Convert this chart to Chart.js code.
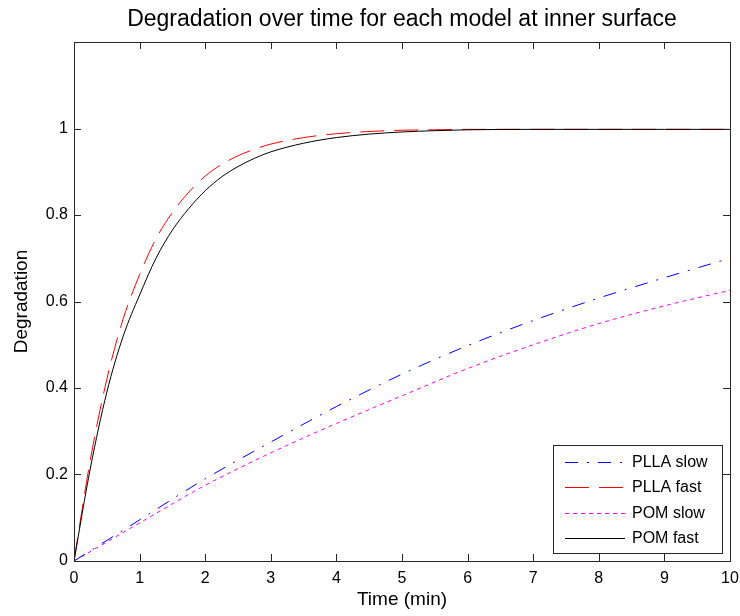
<!DOCTYPE html>
<html>
<head>
<meta charset="utf-8">
<script src="https://cdn.jsdelivr.net/npm/chart.js@4.4.1/dist/chart.umd.min.js"></script>
<style>
  html, body { margin: 0; padding: 0; background: #fff; }
  #wrap { width: 740px; height: 616px; }
</style>
</head>
<body>
<div id="wrap"><canvas id="degChart" width="740" height="616"></canvas></div>
<script>
// values
const timeFast = [0, 0.25, 0.5, 0.75, 1, 1.25, 1.5, 1.75, 2, 2.25, 2.5, 2.75, 3, 3.5, 4, 4.5, 5, 5.5, 6, 7, 8, 9, 10];
const pllaFast = [0, 0.235, 0.42, 0.56, 0.662, 0.745, 0.806, 0.853, 0.89, 0.917, 0.937, 0.952, 0.964, 0.979, 0.988, 0.993, 0.996, 0.997, 0.998, 0.998, 0.998, 0.998, 0.998];
const pomFast = [0, 0.215, 0.39, 0.52, 0.615, 0.70, 0.765, 0.815, 0.856, 0.888, 0.912, 0.931, 0.946, 0.966, 0.979, 0.987, 0.992, 0.995, 0.997, 0.998, 0.998, 0.998, 0.998];

const timeSlow = [0, 1, 2, 3, 4, 5, 6, 7, 8, 9, 10];
const pllaSlow = [0, 0.095, 0.19, 0.275, 0.357, 0.432, 0.498, 0.556, 0.608, 0.655, 0.70];
const pomSlow = [0, 0.088, 0.175, 0.25, 0.318, 0.382, 0.445, 0.50, 0.549, 0.59, 0.626];

const xTicks = [0, 1, 2, 3, 4, 5, 6, 7, 8, 9, 10];
const yTicks = [0, 0.2, 0.4, 0.6, 0.8, 1];

const FONT = '"Liberation Sans", Arial, Helvetica, sans-serif';

function pairs(xs, ys) {
    return xs.map((x, i) => ({ x: x, y: ys[i] }));
}

// MATLAB style box with inward ticks on all four sides
const axesBox = {
    id: 'axesBox',
    afterDatasetsDraw(chart) {
        const { ctx, chartArea: a, scales } = chart;
        const len = 7;
        ctx.save();
        ctx.strokeStyle = '#262626';
        ctx.lineWidth = 1;
        ctx.beginPath();
        xTicks.forEach(v => {
            const px = Math.round(scales.x.getPixelForValue(v)) + 0.5;
            ctx.moveTo(px, a.bottom); ctx.lineTo(px, a.bottom - len);
            ctx.moveTo(px, a.top); ctx.lineTo(px, a.top + len);
        });
        yTicks.forEach(v => {
            const py = Math.round(scales.y.getPixelForValue(v)) + 0.5;
            ctx.moveTo(a.left, py); ctx.lineTo(a.left + len, py);
            ctx.moveTo(a.right, py); ctx.lineTo(a.right - len, py);
        });
        ctx.stroke();
        ctx.strokeRect(Math.round(a.left) + 0.5, Math.round(a.top) + 0.5,
            Math.round(a.right - a.left), Math.round(a.bottom - a.top));
        ctx.restore();
    }
};

// legend box in the lower right corner, as in the original figure
const boxLegend = {
    id: 'boxLegend',
    afterDraw(chart) {
        const { ctx } = chart;
        const x0 = 553, y0 = 445, w = 169, h = 108;
        ctx.save();
        ctx.fillStyle = '#fff';
        ctx.fillRect(x0, y0, w, h);
        ctx.strokeStyle = '#262626';
        ctx.lineWidth = 1;
        ctx.strokeRect(x0 + 0.5, y0 + 0.5, w, h);
        ctx.font = '16px ' + FONT;
        ctx.textBaseline = 'middle';
        chart.data.datasets.forEach((ds, i) => {
            const y = Math.round(y0 + 17 + i * 25.3) + 0.5;
            ctx.strokeStyle = ds.borderColor;
            ctx.lineWidth = 1;
            ctx.setLineDash(ds.borderDash || []);
            ctx.beginPath();
            ctx.moveTo(565, y);
            ctx.lineTo(625, y);
            ctx.stroke();
            ctx.setLineDash([]);
            ctx.fillStyle = '#000';
            ctx.fillText(ds.label, 632, y);
        });
        ctx.restore();
    }
};

new Chart(document.getElementById('degChart'), {
    type: 'line',
    data: {
        datasets: [
            {
                label: 'PLLA slow',
                data: pairs(timeSlow, pllaSlow),
                borderColor: '#0000ff',
                borderDash: [13, 9, 2, 9],
                order: 1
            },
            {
                label: 'PLLA fast',
                data: pairs(timeFast, pllaFast),
                borderColor: '#ff0000',
                borderDash: [24, 10],
                order: 1
            },
            {
                label: 'POM slow',
                data: pairs(timeSlow, pomSlow),
                borderColor: '#ff00ff',
                borderDash: [4, 4],
                order: 1
            },
            {
                label: 'POM fast',
                data: pairs(timeFast, pomFast),
                borderColor: '#000000',
                order: 0
            }
        ]
    },
    options: {
        responsive: false,
        animation: false,
        devicePixelRatio: 1,
        layout: { padding: { top: 0, right: 10, left: 0, bottom: 0 } },
        elements: {
            point: { radius: 0 },
            line: { borderWidth: 1, fill: false, cubicInterpolationMode: 'monotone' }
        },
        plugins: {
            legend: { display: false },
            tooltip: { enabled: false },
            title: {
                display: true,
                fullSize: false,
                text: 'Degradation over time for each model at inner surface',
                color: '#000',
                font: { family: FONT, size: 23, weight: 'normal' },
                padding: { top: 6, bottom: 8.4 }
            }
        },
        scales: {
            x: {
                type: 'linear',
                min: 0,
                max: 10,
                grid: { display: false, drawTicks: false },
                border: { display: false },
                ticks: {
                    stepSize: 1,
                    padding: 8,
                    color: '#000',
                    maxRotation: 0,
                    font: { family: FONT, size: 16 }
                },
                title: {
                    display: true,
                    text: 'Time (min)',
                    color: '#000',
                    font: { family: FONT, size: 19 },
                    padding: { top: 0, bottom: 4.6 }
                },
                afterFit(scale) {
                    scale.height = 55;
                    scale.paddingLeft = 0;
                    scale.paddingRight = 0;
                }
            },
            y: {
                type: 'linear',
                min: 0,
                max: 1.2,
                grid: { display: false, drawTicks: false },
                border: { display: false },
                ticks: {
                    stepSize: 0.2,
                    padding: 6,
                    color: '#000',
                    font: { family: FONT, size: 16 },
                    callback: v => (v > 1.0001 ? '' : String(Math.round(v * 10) / 10))
                },
                title: {
                    display: true,
                    text: 'Degradation',
                    color: '#000',
                    font: { family: FONT, size: 19 },
                    padding: { top: 10.6, bottom: 0 }
                },
                afterFit(scale) {
                    scale.width = 74;
                    scale.paddingTop = 0;
                    scale.paddingBottom = 0;
                }
            }
        }
    },
    plugins: [axesBox, boxLegend]
});
</script>
</body>
</html>
